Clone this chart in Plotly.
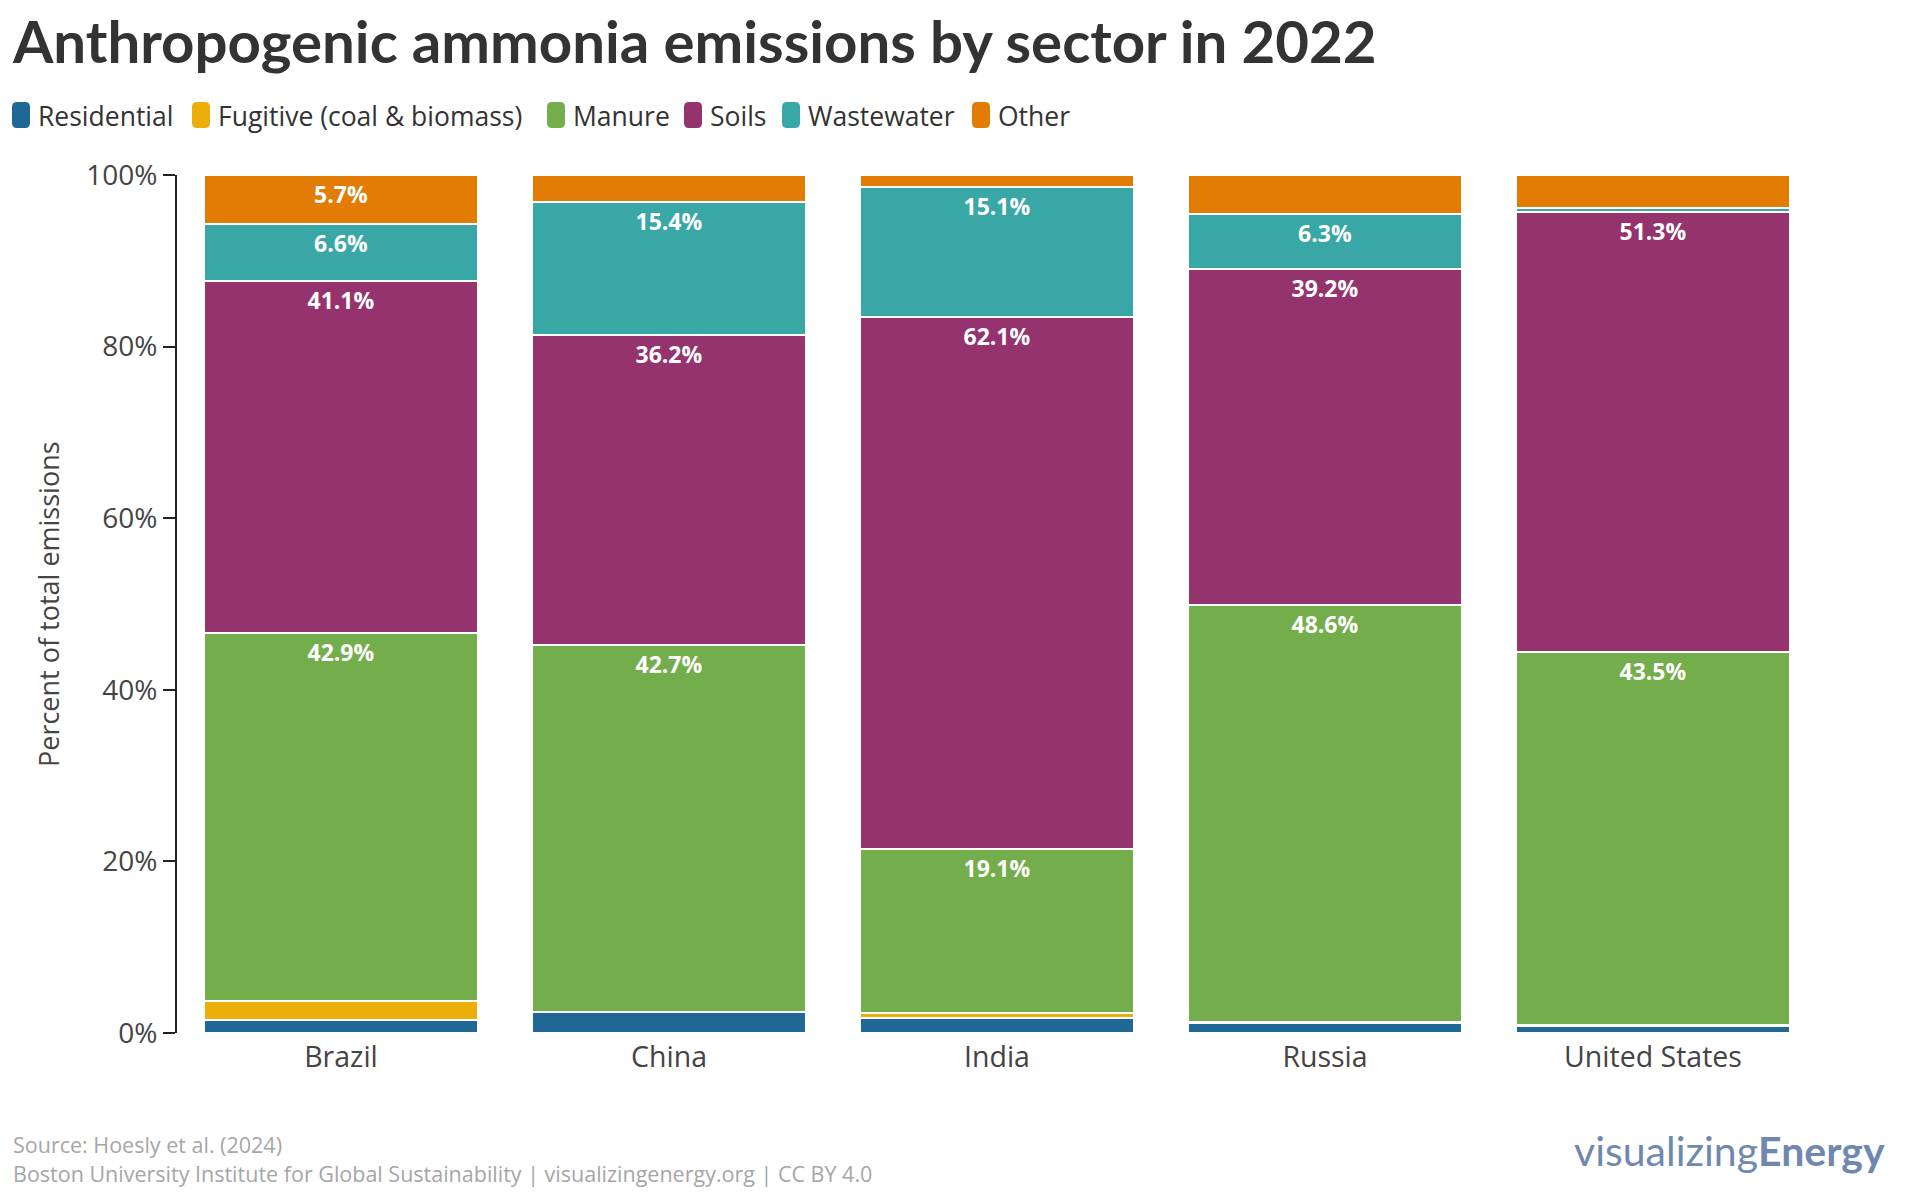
import plotly.graph_objects as go

# ---------------- data ----------------
countries = ["Brazil", "China", "India", "Russia", "United States"]
sectors = ["Residential", "Fugitive (coal & biomass)", "Manure", "Soils", "Wastewater", "Other"]
residential = [1.5, 2.4, 1.7, 1.2, 0.8]
fugitive = [2.2, 0.1, 0.6, 0.1, 0.1]
manure = [42.9, 42.7, 19.1, 48.6, 43.5]
soils = [41.1, 36.2, 62.1, 39.2, 51.3]
wastewater = [6.6, 15.4, 15.1, 6.3, 0.4]
other = [5.7, 3.2, 1.4, 4.6, 3.9]
series = [residential, fugitive, manure, soils, wastewater, other]
colors = ["#1f6896", "#ecae08", "#74ad4b", "#94336d", "#39a7a6", "#e27c05"]
y_ticks = [0, 20, 40, 60, 80, 100]
y_tick_labels = [f"{v}%" for v in y_ticks]
label_min = 5.0

# ---------------- geometry (pixels) ----------------
FW, FH = 1920, 1201
L, R, T, B = 177, 1817, 175, 1033
PW, PH = R - L, B - T


def px_x(px):
    return (px - L) / PW


def px_y(py):
    return (B - py) / PH


FONT = "Open Sans"
fig = go.Figure()
for name, vals, col in zip(sectors, series, colors):
    fig.add_trace(go.Bar(
        x=countries, y=vals, name=name,
        marker=dict(color=col, line=dict(color="white", width=2)),
        text=[f"{v:.1f}%" if v >= label_min else "" for v in vals],
        textposition="inside", insidetextanchor="end", textangle=0,
        constraintext="none",
        textfont=dict(color="white", size=23, family=FONT, weight="bold"),
        showlegend=False, hoverinfo="skip",
    ))

# ---------------- custom legend ----------------
leg_sq_x = [12, 192, 547, 684, 782, 972]
leg_cy = 115
sq_w, sq_h, rad = 18, 26, 5
shapes = []
annotations = []
for name, col, sx in zip(sectors, colors, leg_sq_x):
    x0, x1 = sx, sx + sq_w
    y0, y1 = leg_cy - sq_h / 2, leg_cy + sq_h / 2
    pts = [
        (x0 + rad, y0), (x1 - rad, y0), (x1, y0), (x1, y0 + rad), (x1, y1 - rad), (x1, y1),
        (x1 - rad, y1), (x0 + rad, y1), (x0, y1), (x0, y1 - rad), (x0, y0 + rad), (x0, y0),
    ]
    P = [(px_x(a), px_y(b)) for a, b in pts]
    path = (f"M {P[0][0]},{P[0][1]} L {P[1][0]},{P[1][1]} Q {P[2][0]},{P[2][1]} {P[3][0]},{P[3][1]} "
            f"L {P[4][0]},{P[4][1]} Q {P[5][0]},{P[5][1]} {P[6][0]},{P[6][1]} "
            f"L {P[7][0]},{P[7][1]} Q {P[8][0]},{P[8][1]} {P[9][0]},{P[9][1]} "
            f"L {P[10][0]},{P[10][1]} Q {P[11][0]},{P[11][1]} {P[0][0]},{P[0][1]} Z")
    shapes.append(dict(type="path", xref="paper", yref="paper", path=path,
                       fillcolor=col, line=dict(width=0), layer="above"))
    annotations.append(dict(x=px_x(sx + sq_w + 6), y=px_y(leg_cy + 1), xref="paper", yref="paper",
                            text=name, showarrow=False, xanchor="left", yanchor="middle",
                            font=dict(family=FONT, size=26.5, color="#333333")))

# title
annotations.append(dict(x=px_x(10), y=px_y(40), xref="paper", yref="paper",
                        text="<b>Anthropogenic ammonia emissions by sector in 2022</b>",
                        showarrow=False, xanchor="left", yanchor="middle",
                        font=dict(family="Lato", size=58.2, color="#333333")))
# y-axis title
annotations.append(dict(x=px_x(48), y=px_y((T + B) / 2), xref="paper", yref="paper",
                        text="Percent of total emissions", textangle=-90,
                        showarrow=False, xanchor="center", yanchor="middle",
                        font=dict(family=FONT, size=27, color="#444444")))
# footer
annotations.append(dict(x=px_x(11), y=px_y(1144), xref="paper", yref="paper",
                        text="Source: Hoesly et al. (2024)",
                        showarrow=False, xanchor="left", yanchor="middle",
                        font=dict(family=FONT, size=21.5, color="#a6a6a6")))
annotations.append(dict(x=px_x(11), y=px_y(1173), xref="paper", yref="paper",
                        text="Boston University Institute for Global Sustainability | visualizingenergy.org | CC BY 4.0",
                        showarrow=False, xanchor="left", yanchor="middle",
                        font=dict(family=FONT, size=21.5, color="#a6a6a6")))
annotations.append(dict(x=px_x(1887), y=px_y(1150), xref="paper", yref="paper",
                        text="visualizing<b>Energy</b>",
                        showarrow=False, xanchor="right", yanchor="middle",
                        font=dict(family="Lato", size=41, color="#6f88af")))

fig.update_layout(
    barmode="stack", bargap=0.165,
    width=FW, height=FH,
    margin=dict(l=L, r=FW - R, t=T, b=FH - B, pad=0),
    paper_bgcolor="white", plot_bgcolor="white",
    shapes=shapes, annotations=annotations,
    font=dict(family=FONT, color="#444444"),
)
fig.update_yaxes(range=[0, 100], tickmode="array", tickvals=y_ticks, ticktext=y_tick_labels,
                 showgrid=False, zeroline=False, showline=True, linecolor="#222222", linewidth=2,
                 ticks="outside", ticklen=12, tickwidth=2, tickcolor="#222222",
                 tickfont=dict(family=FONT, size=28, color="#444444"))
fig.update_xaxes(showgrid=False, showline=False, ticks="", ticklabelstandoff=4,
                 tickfont=dict(family=FONT, size=28.5, color="#444444"))

fig.write_html("out.html", config={"displayModeBar": False},
               post_script="document.body.style.margin='0';document.body.style.overflow='hidden';")
